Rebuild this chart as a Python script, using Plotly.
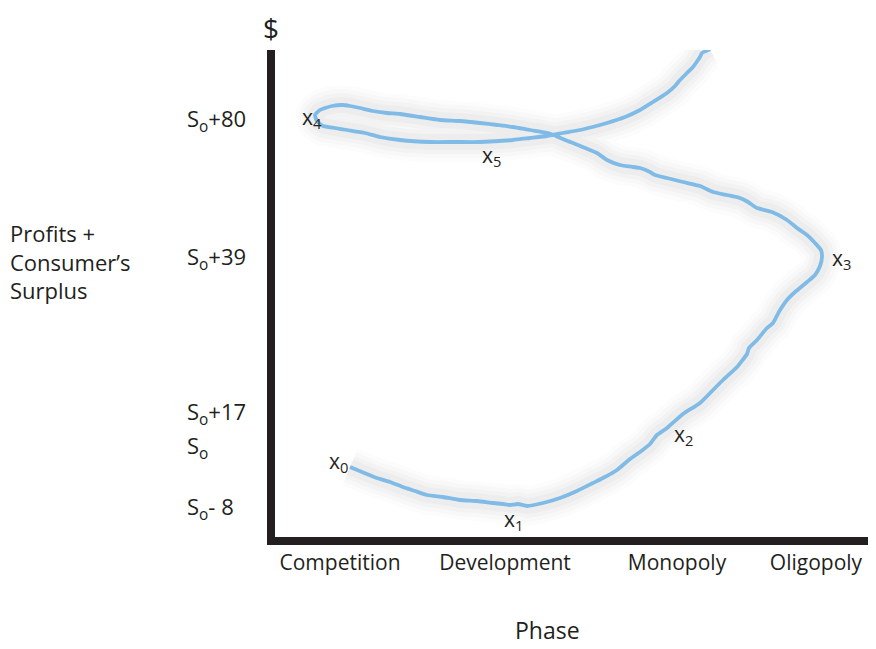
import plotly.graph_objects as go

# Curve path (phase position, profits + consumer's surplus), in chart units
curve_x = [75, 87, 102, 115, 128, 140, 152, 168, 185, 202, 218, 228, 235, 243, 252, 268, 285, 302, 318, 330,
           342, 355, 365, 375, 378, 382, 392, 408, 425, 438, 448, 462, 472, 474, 482, 492, 498, 505, 512, 520,
           532, 540, 545, 547, 546, 540, 532, 522, 512, 497, 482, 473, 465, 452, 438, 425, 408, 392, 380, 375,
           365, 358, 345, 332, 322, 310, 298, 290, 281, 273, 255, 238, 222, 205, 185, 165, 145, 125, 112, 98,
           85, 75, 68, 57, 45, 40, 42, 48, 60, 72, 90, 105, 125, 155, 180, 205, 238, 255, 272, 288,
           305, 325, 332, 350, 365, 378, 392, 400, 405, 412, 418, 423, 425, 427, 431, 435]
curve_y = [70, 65, 59, 55, 50, 46, 42, 40, 37, 36, 34, 33, 32, 33, 31, 34, 39, 46, 54, 60,
           67, 78, 85, 93, 97, 102, 109, 123, 134, 147, 157, 170, 183, 189, 197, 209, 214, 227, 237, 245,
           255, 262, 271, 280, 287, 294, 302, 309, 317, 325, 329, 335, 339, 342, 345, 351, 355, 359, 362, 365,
           369, 370, 372, 377, 384, 389, 394, 397, 401, 404, 407, 410, 412, 414, 416, 417, 420, 423, 424, 426,
           429, 431, 432, 431, 427, 422, 416, 411, 409, 407, 404, 400, 397, 395, 395, 395, 397, 399, 401, 404,
           407, 412, 414, 420, 427, 435, 444, 451, 457, 464, 470, 477, 480, 484, 486, 488]

# Point labels
point_names = ["0", "1", "2", "3", "4", "5"]
point_x = [52, 227, 397, 555, 25, 205]
point_y = [75, 17, 102, 278, 419, 381]

# Phase (x) tick labels
phase_vals = [65, 230, 402, 541]
phase_labels = ["Competition", "Development", "Monopoly", "Oligopoly"]

# Dollar (y) labels
dollar_vals = [417, 279, 124, 90, 29]
dollar_labels = ["S<sub>o</sub>+80", "S<sub>o</sub>+39", "S<sub>o</sub>+17", "S<sub>o</sub>", "S<sub>o</sub>- 8"]

FONT = "Open Sans"
TXT = "#231f20"
BLUE = "#7fbbe6"

fig = go.Figure()

# soft shadow under the curve
for w, a in [(40, 0.012), (32, 0.015), (24, 0.02), (16, 0.025)]:
    fig.add_trace(go.Scatter(x=curve_x, y=curve_y, mode="lines",
                             line=dict(color=f"rgba(0,0,0,{a})", width=w, shape="spline", smoothing=0.5),
                             hoverinfo="skip", showlegend=False, cliponaxis=False))

fig.add_trace(go.Scatter(x=curve_x, y=curve_y, mode="lines",
                         line=dict(color=BLUE, width=3.8, shape="spline", smoothing=0.5),
                         showlegend=False, cliponaxis=False))

annotations = []
for n, px, py in zip(point_names, point_x, point_y):
    annotations.append(dict(x=px, y=py, xref="x", yref="y", text=f"x<sub>{n}</sub>",
                            showarrow=False, xanchor="left", yanchor="middle",
                            font=dict(family=FONT, size=21, color=TXT)))

for v, t in zip(dollar_vals, dollar_labels):
    annotations.append(dict(x=-0.1498, y=v, xref="paper", yref="y", text=t, showarrow=False,
                            xanchor="left", yanchor="middle",
                            font=dict(family=FONT, size=22, color=TXT)))

annotations.append(dict(x=-0.445, y=276, xref="paper", yref="y",
                        text="Profits +<br>Consumer’s<br>Surplus", align="left",
                        showarrow=False, xanchor="left", yanchor="middle",
                        font=dict(family=FONT, size=22, color=TXT)))
annotations.append(dict(x=0.453, y=-0.191, xref="paper", yref="paper", text="Phase", showarrow=False,
                        xanchor="center", yanchor="middle",
                        font=dict(family=FONT, size=23, color=TXT)))
annotations.append(dict(x=-0.007, y=1.046, xref="paper", yref="paper", text="$", showarrow=False,
                        xanchor="center", yanchor="middle",
                        font=dict(family=FONT, size=28, color=TXT)))

fig.update_layout(
    width=868, height=641,
    margin=dict(l=267, r=0, t=42, b=112),
    paper_bgcolor="white", plot_bgcolor="white",
    xaxis=dict(range=[0, 601], showgrid=False, zeroline=False, showline=True, linewidth=8,
               linecolor=TXT, tickvals=phase_vals, ticktext=phase_labels, ticks="outside",
               ticklen=0, tickcolor="rgba(0,0,0,0)", tickfont=dict(family=FONT, size=21, color=TXT),
               fixedrange=True),
    yaxis=dict(range=[0, 487], showgrid=False, zeroline=False, showline=True, linewidth=8,
               linecolor=TXT, showticklabels=False, ticks="", fixedrange=True),
    annotations=annotations,
)

fig.write_html("out.html")
